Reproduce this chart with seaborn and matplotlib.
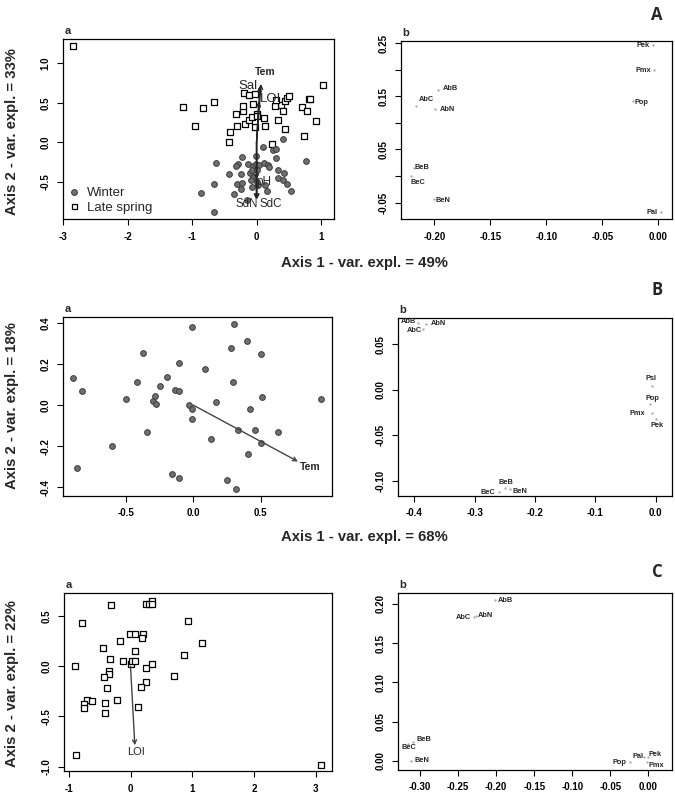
import matplotlib
matplotlib.use("Agg")
import matplotlib.pyplot as plt
from matplotlib.lines import Line2D
import numpy as np
import pandas as pd
import seaborn as sns

# ---------------- DATA ----------------
# Panel A-a : sites (Winter / Late spring)
winter_x = [0.414, 0.093, 0.248, 0.300, -0.631, -0.228, -0.010, -0.290, -0.326, -0.135,
            -0.062, -0.010, 0.041, 0.119, 0.181, 0.197, 0.300, 0.771, -0.424, -0.248,
            -0.103, -0.066, 0.010, -0.052, -0.093, 0.000, 0.336, 0.424, 0.331, 0.414,
            0.466, 0.528, -0.662, -0.300, -0.233, -0.248, -0.351, -0.864, 0.166, 0.026,
            -0.145, -0.662, -0.078, 0.129]
winter_y = [0.041, -0.056, -0.098, -0.077, -0.255, -0.187, -0.170, -0.267, -0.293, -0.267,
            -0.301, -0.267, -0.289, -0.255, -0.280, -0.310, -0.200, -0.229, -0.403, -0.403,
            -0.386, -0.343, -0.352, -0.436, -0.479, -0.500, -0.343, -0.381, -0.445, -0.470,
            -0.529, -0.614, -0.521, -0.521, -0.512, -0.593, -0.648, -0.639, -0.614, -0.542,
            -0.732, -0.876, -0.563, -0.542]
spring_x = [-2.845, 1.026, -1.140, -0.837, -0.661, -0.956, -0.414, -0.430, -0.325, -0.216,
            -0.206, -0.300, -0.185, -0.118, -0.066, -0.050, -0.190, -0.120, -0.030, 0.115,
            0.136, 0.000, -0.020, 0.333, 0.374, 0.291, 0.415, 0.442, 0.477, 0.498,
            0.302, 0.700, 0.778, 0.808, 0.829, 0.922, 0.736, 0.446, 0.239, 0.012]
spring_y = [1.224, 0.729, 0.455, 0.440, 0.514, 0.212, 0.130, 0.000, 0.363, 0.397,
            0.460, 0.210, 0.230, 0.283, 0.317, 0.486, 0.630, 0.600, 0.610, 0.310,
            0.204, 0.366, 0.200, 0.289, 0.472, 0.458, 0.400, 0.527, 0.569, 0.586,
            0.535, 0.451, 0.396, 0.544, 0.544, 0.273, 0.087, 0.171, -0.014, 0.332]
season_labels = ["Winter", "Late spring"]

# Panel A-a : environmental vectors
envA_names = ["Tem", "Sal", "LOI", "pH", "SdN", "SdC"]
envA_x = [0.070, 0.050, 0.035, 0.000, -0.005, 0.008]
envA_y = [0.740, 0.710, 0.520, -0.470, -0.720, -0.720]
envA_lx = [0.140, -0.140, 0.210, 0.110, -0.145, 0.225]
envA_ly = [0.887, 0.714, 0.545, -0.500, -0.785, -0.775]

# Panel A-b : species
spA_names = ["AbB", "AbC", "AbN", "BeB", "BeC", "BeN", "Pek", "Pmx", "Pop", "Pal"]
spA_x = [-0.197, -0.216, -0.199, -0.218, -0.221, -0.200, -0.005, -0.004, -0.023, 0.002]
spA_y = [0.162, 0.132, 0.126, 0.0146, 0.000, -0.044, 0.246, 0.199, 0.141, -0.068]

# Panel B-a : sites
siteB_x = [-0.891, -0.824, -0.864, -0.601, -0.495, -0.416, -0.371, -0.344, -0.300, -0.282,
           -0.280, -0.243, -0.198, -0.139, -0.109, -0.106, -0.161, -0.109, -0.030, -0.010,
           -0.010, -0.010, 0.089, 0.166, 0.129, 0.277, 0.300, 0.292, 0.332, 0.394,
           0.421, 0.403, 0.460, 0.500, 0.510, 0.498, 0.629, 0.250, 0.319, 0.948]
siteB_y = [0.131, 0.067, -0.307, -0.198, 0.031, 0.114, 0.256, -0.131, 0.021, 0.045,
           0.006, 0.093, 0.138, 0.075, 0.067, 0.205, -0.336, -0.354, 0.003, -0.019,
           -0.067, 0.380, 0.175, 0.015, -0.167, 0.279, 0.396, 0.112, -0.120, 0.312,
           -0.018, -0.240, -0.120, 0.247, 0.039, -0.182, -0.131, -0.365, -0.409, 0.031]
envB_names = ["Tem"]
envB_x = [0.775]
envB_y = [-0.274]
envB_lx = [0.866]
envB_ly = [-0.299]

# Panel B-b : species
spB_names = ["AbB", "AbN", "AbC", "Psl", "Pop", "Pmx", "Pek", "BeB", "BeC", "BeN"]
spB_x = [-0.394, -0.380, -0.386, -0.006, -0.0088, -0.006, 0.001, -0.249, -0.259, -0.241]
spB_y = [0.0737, 0.0723, 0.067, 0.0044, -0.0158, -0.0258, -0.032, -0.1084, -0.1128, -0.1095]

# Panel C-a : sites
siteC_x = [-0.903, -0.778, -0.876, -0.314, 0.243, 0.303, 0.346, 0.341, 0.924, 1.157,
           0.859, 0.708, -0.011, 0.070, 0.195, 0.178, 0.070, -0.162, -0.449, -0.330,
           -0.114, 0.005, 0.022, 0.070, 0.243, 0.351, -0.351, -0.351, -0.422, -0.378,
           0.243, 0.173, 0.119, -0.222, -0.411, -0.411, -0.708, -0.746, -0.746, -0.627,
           3.086]
siteC_y = [0.000, 0.430, -0.880, 0.607, 0.620, 0.620, 0.653, 0.620, 0.453, 0.227,
           0.113, -0.093, 0.320, 0.320, 0.320, 0.277, 0.157, 0.253, 0.187, 0.073,
           0.050, 0.023, 0.050, 0.050, -0.013, 0.023, -0.043, -0.077, -0.107, -0.220,
           -0.153, -0.203, -0.403, -0.333, -0.370, -0.463, -0.337, -0.377, -0.420, -0.347,
           -0.980]
envC_names = ["LOI"]
envC_x = [0.070]
envC_y = [-0.787]
envC_lx = [0.081]
envC_ly = [-0.853]

# Panel C-b : species
spC_names = ["AbB", "AbC", "AbN", "BeB", "BeC", "BeN", "Pop", "Pal", "Pek", "Pmx"]
spC_x = [-0.2018, -0.2298, -0.2259, -0.3088, -0.3154, -0.3123, -0.0246, -0.0053, -0.0009, -0.0018]
spC_y = [0.2055, 0.1834, 0.1847, 0.0238, 0.0217, 0.000, -0.0017, 0.0055, 0.0047, -0.0009]

# axis titles / panel letters
xlab_A = "Axis 1 - var. expl. = 49%"
ylab_A = "Axis 2 - var. expl. = 33%"
xlab_B = "Axis 1 - var. expl. = 68%"
ylab_B = "Axis 2 - var. expl. = 18%"
ylab_C = "Axis 2 - var. expl. = 22%"
row_letters = ["A", "B", "C"]

# ticks
A_a_xt = [-3, -2, -1, 0, 1]
A_a_xl = ["-3", "-2", "-1", "0", "1"]
A_a_yt = [-0.5, 0.0, 0.5, 1.0]
A_a_yl = ["-0.5", "0.0", "0.5", "1.0"]
A_b_xt = [-0.20, -0.15, -0.10, -0.05, 0.00]
A_b_xl = ["-0.20", "-0.15", "-0.10", "-0.05", "0.00"]
A_b_yt = [-0.05, 0.00, 0.05, 0.10, 0.15, 0.20, 0.25]
A_b_yl = ["-0.05", "", "0.05", "", "0.15", "", "0.25"]
B_a_xt = [-0.5, 0.0, 0.5]
B_a_xl = ["-0.5", "0.0", "0.5"]
B_a_yt = [-0.4, -0.2, 0.0, 0.2, 0.4]
B_a_yl = ["-0.4", "-0.2", "0.0", "0.2", "0.4"]
B_b_xt = [-0.4, -0.3, -0.2, -0.1, 0.0]
B_b_xl = ["-0.4", "-0.3", "-0.2", "-0.1", "0.0"]
B_b_yt = [-0.10, -0.05, 0.00, 0.05]
B_b_yl = ["-0.10", "-0.05", "0.00", "0.05"]
C_a_xt = [-1, 0, 1, 2, 3]
C_a_xl = ["-1", "0", "1", "2", "3"]
C_a_yt = [-1.0, -0.5, 0.0, 0.5]
C_a_yl = ["-1.0", "-0.5", "0.0", "0.5"]
C_b_xt = [-0.30, -0.25, -0.20, -0.15, -0.10, -0.05, 0.00]
C_b_xl = ["-0.30", "-0.25", "-0.20", "-0.15", "-0.10", "-0.05", "0.00"]
C_b_yt = [0.00, 0.05, 0.10, 0.15, 0.20]
C_b_yl = ["0.00", "0.05", "0.10", "0.15", "0.20"]

# ---------------- STYLE ----------------
sns.set_style("ticks")
plt.rcParams['font.family'] = ['Liberation Sans', 'DejaVu Sans']
plt.rcParams['axes.linewidth'] = 0.8

W, H = 675, 797
fig = plt.figure(figsize=(W / 100, H / 100), dpi=100)


def add_ax(x0, y0, x1, y1):
    return fig.add_axes([x0 / W, 1 - y1 / H, (x1 - x0) / W, (y1 - y0) / H])


def style(ax, xlim, ylim, xt, xl, yt, yl, letter):
    ax.set_xlim(*xlim)
    ax.set_ylim(*ylim)
    ax.set_xticks(xt)
    ax.set_xticklabels(xl)
    ax.set_yticks(yt)
    ax.set_yticklabels(yl, rotation=90, va="center")
    ax.tick_params(direction="out", length=4.5, width=0.8, labelsize=7,
                   pad=4.5, colors="black")
    for t in ax.get_xticklabels() + ax.get_yticklabels():
        t.set_fontweight("bold")
    for s in ax.spines.values():
        s.set_visible(True)
        s.set_color("black")
        s.set_linewidth(0.9)
    ax.set_xlabel("")
    ax.set_ylabel("")
    ax.text(0.005, 1.015, letter, transform=ax.transAxes, fontsize=8,
            fontweight="bold", ha="left", va="bottom")


def species(ax, names, xs, ys, offs):
    sns.scatterplot(x=xs, y=ys, ax=ax, s=3, color="#b0b0b0", linewidth=0, legend=False)
    for n, x, y in zip(names, xs, ys):
        dx, dy = offs[n]
        ax.annotate(n, xy=(x, y), xytext=(dx * 0.72, dy * 0.72),
                    textcoords="offset points", ha="center", va="center",
                    fontsize=5.3, fontweight="bold")


def vectors(ax, xs, ys, names, lxs, lys, sizes, weights, col="#222222"):
    for x, y, n, lx, ly, fs, fw in zip(xs, ys, names, lxs, lys, sizes, weights):
        ax.annotate("", xy=(x, y), xytext=(0, 0),
                    arrowprops=dict(arrowstyle="->", color=col, lw=1.0,
                                    shrinkA=0, shrinkB=0, mutation_scale=7))
        ax.text(lx, ly, n, fontsize=fs, fontweight=fw, ha="center", va="center")


# ---------- Row A ----------
axAa = add_ax(63, 39, 334, 219)
sns.scatterplot(x=spring_x, y=spring_y, ax=axAa, marker="s", s=13,
                facecolor="white", edgecolor="black", linewidth=0.9, legend=False)
sns.scatterplot(x=winter_x, y=winter_y, ax=axAa, marker="o", s=17,
                color="#6f6f6f", edgecolor="#3a3a3a", linewidth=0.7, legend=False)
vectors(axAa, envA_x, envA_y, envA_names, envA_lx, envA_ly,
        [7.5, 9.5, 9.5, 8.5, 8.3, 8.3],
        ["bold", "normal", "normal", "normal", "normal", "normal"])
style(axAa, (-3.0, 1.2), (-0.97, 1.31), A_a_xt, A_a_xl, A_a_yt, A_a_yl, "a")
handles = [Line2D([], [], marker="o", ls="", markersize=4.2, markerfacecolor="#6f6f6f",
                  markeredgecolor="#3a3a3a", markeredgewidth=0.7),
           Line2D([], [], marker="s", ls="", markersize=3.6, markerfacecolor="white",
                  markeredgecolor="black", markeredgewidth=0.9)]
axAa.legend(handles, season_labels, loc="lower left", bbox_to_anchor=(0.016, 0.03),
            frameon=False, fontsize=9.5, handlelength=1.0, handletextpad=0.5,
            labelspacing=0.15, borderpad=0, borderaxespad=0)

axAb = add_ax(401, 41, 672, 219)
offA = {"AbB": (13, 1), "AbC": (10, 6), "AbN": (12, 0), "BeB": (8, 1), "BeC": (7, -7),
        "BeN": (9, -1), "Pek": (-10, 0), "Pmx": (-11, 0), "Pop": (9, -1), "Pal": (-9, 0)}
species(axAb, spA_names, spA_x, spA_y, offA)
style(axAb, (-0.2297, 0.0122), (-0.081, 0.254), A_b_xt, A_b_xl, A_b_yt, A_b_yl, "b")

# ---------- Row B ----------
axBa = add_ax(63, 317, 332, 496)
sns.scatterplot(x=siteB_x, y=siteB_y, ax=axBa, marker="o", s=17,
                color="#6f6f6f", edgecolor="#3a3a3a", linewidth=0.7, legend=False)
vectors(axBa, envB_x, envB_y, envB_names, envB_lx, envB_ly, [7.5], ["bold"], "#444444")
style(axBa, (-0.965, 1.027), (-0.442, 0.429), B_a_xt, B_a_xl, B_a_yt, B_a_yl, "a")

axBb = add_ax(398, 318, 672, 496)
offB = {"AbB": (-9, 1), "AbN": (12, 1), "AbC": (-8, -2), "Psl": (-1, 7), "Pop": (2, 6),
        "Pmx": (-15, 0), "Pek": (1, -7), "BeB": (1, 6), "BeC": (-12, 0), "BeN": (10, -2)}
species(axBb, spB_names, spB_x, spB_y, offB)
style(axBb, (-0.427, 0.027), (-0.117, 0.079), B_b_xt, B_b_xl, B_b_yt, B_b_yl, "b")

# ---------- Row C ----------
axCa = add_ax(64, 593, 332, 771)
sns.scatterplot(x=siteC_x, y=siteC_y, ax=axCa, marker="s", s=13,
                facecolor="white", edgecolor="black", linewidth=0.9, legend=False)
vectors(axCa, envC_x, envC_y, envC_names, envC_lx, envC_ly, [8], ["normal"], "#444444")
style(axCa, (-1.076, 3.26), (-1.043, 0.73), C_a_xt, C_a_xl, C_a_yt, C_a_yl, "a")

axCb = add_ax(398, 593, 672, 770)
offC = {"AbB": (11, -1), "AbC": (-10, 0), "AbN": (9, 0), "BeB": (11, 3), "BeC": (1, -4),
        "BeN": (11, 0), "Pop": (-10, 0), "Pal": (-6, 0), "Pek": (7, 3), "Pmx": (9, -4)}
species(axCb, spC_names, spC_x, spC_y, offC)
style(axCb, (-0.329, 0.031), (-0.0115, 0.214), C_b_xt, C_b_xl, C_b_yt, C_b_yl, "b")

# ---------- figure text ----------
fig.text(364 / W, 1 - 263 / H, xlab_A, ha="center", va="center", fontsize=10.7, fontweight="bold")
fig.text(364 / W, 1 - 537 / H, xlab_B, ha="center", va="center", fontsize=10.7, fontweight="bold")
for lab, yc in zip([ylab_A, ylab_B, ylab_C], [132, 406, 684]):
    fig.text(12 / W, 1 - yc / H, lab, rotation=90, ha="center", va="center",
             fontsize=10.7, fontweight="bold")
for let, yc in zip(row_letters, [15, 290, 572]):
    fig.text(657 / W, 1 - yc / H, let, ha="center", va="center", fontsize=12,
             fontweight="bold", family=["Open Sans", "DejaVu Sans"])

fig.savefig("out.png", dpi=100)
